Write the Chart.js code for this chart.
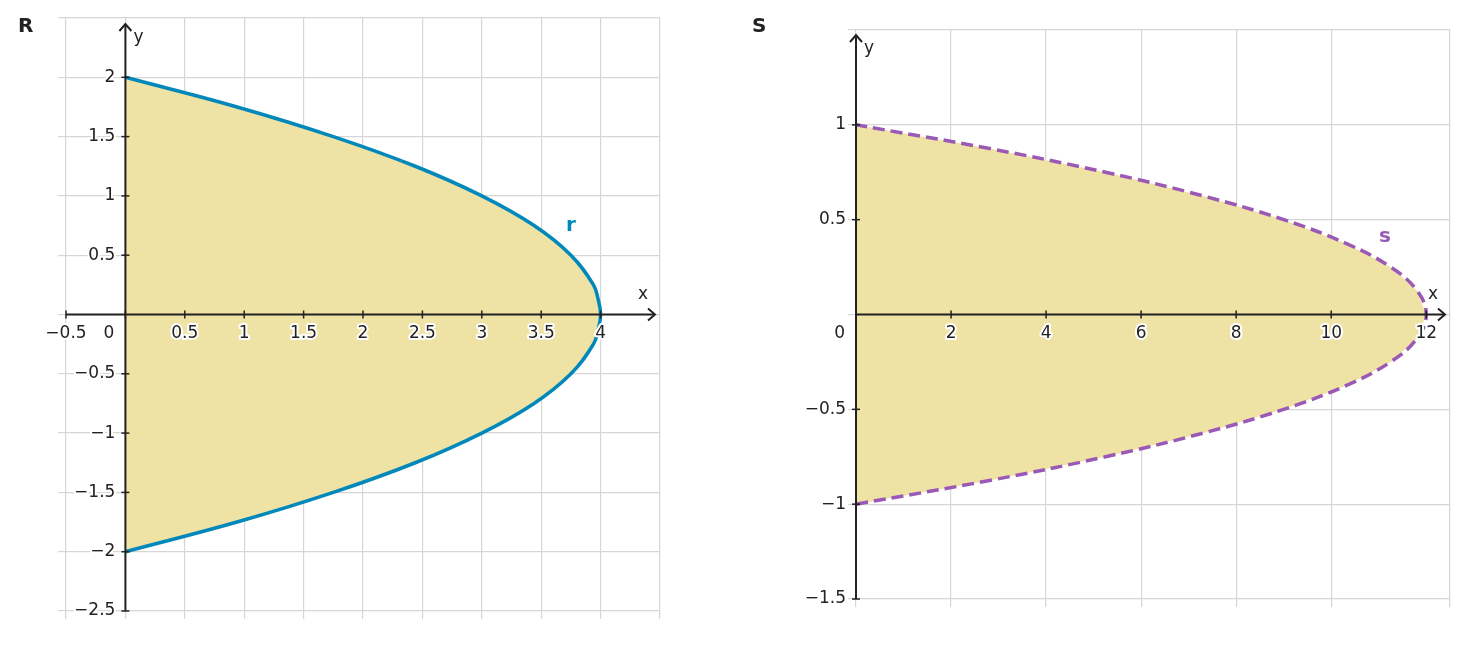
<!DOCTYPE html>
<html>
<head>
<meta charset="utf-8">
<script src="https://cdn.jsdelivr.net/npm/chart.js@4"></script>
<style>
  body { margin: 0; background: #fff; }
  .wrap { position: absolute; top: 0; width: 734px; height: 648px; }
</style>
</head>
<body>
<div class="wrap" style="left:0"><canvas id="chartR"></canvas></div>
<div class="wrap" style="left:734px"><canvas id="chartS"></canvas></div>
<script>
// Curve r: points read along the parabola (x, y)
const rY = [-2, -1.75, -1.5, -1.25, -1, -0.75, -0.5, -0.25, -0.125, 0, 0.125, 0.25, 0.5, 0.75, 1, 1.25, 1.5, 1.75, 2];
const rX = [0, 0.94, 1.75, 2.44, 3, 3.44, 3.75, 3.94, 3.98, 4, 3.98, 3.94, 3.75, 3.44, 3, 2.44, 1.75, 0.94, 0];
const rXTicks = [-0.5, 0, 0.5, 1, 1.5, 2, 2.5, 3, 3.5, 4];
const rYTicks = [-2.5, -2, -1.5, -1, -0.5, 0.5, 1, 1.5, 2];

// Curve s
const sY = [-1, -0.875, -0.75, -0.625, -0.5, -0.375, -0.25, -0.125, 0, 0.125, 0.25, 0.375, 0.5, 0.625, 0.75, 0.875, 1];
const sX = [0, 2.81, 5.25, 7.31, 9, 10.31, 11.25, 11.81, 12, 11.81, 11.25, 10.31, 9, 7.31, 5.25, 2.81, 0];
const sXTicks = [0, 2, 4, 6, 8, 10, 12];
const sYTicks = [-1.5, -1, -0.5, 0.5, 1];

const FONT = '"DejaVu Sans", sans-serif';
const fmt = v => String(v).replace('-', '\u2212');

function axesPlugin(o) {
  return {
    id: 'axes',
    beforeDatasetsDraw(chart) {
      const ctx = chart.ctx;
      const pts = chart.getDatasetMeta(0).data;
      ctx.save();
      ctx.fillStyle = '#efe2a5';
      ctx.beginPath();
      pts.forEach((p, i) => i ? ctx.lineTo(p.x, p.y) : ctx.moveTo(p.x, p.y));
      ctx.closePath();
      ctx.fill();
      ctx.restore();
    },
    afterDatasetsDraw(chart) {
      const ctx = chart.ctx, xs = chart.scales.x, ys = chart.scales.y, a = chart.chartArea;
      const x0 = xs.getPixelForValue(0), y0 = ys.getPixelForValue(0);
      ctx.save();
      ctx.strokeStyle = '#222'; ctx.fillStyle = '#222'; ctx.lineWidth = 2;
      ctx.beginPath();
      ctx.moveTo(a.left, y0); ctx.lineTo(a.right - 5, y0);
      ctx.moveTo(x0, a.bottom); ctx.lineTo(x0, o.yTop);
      ctx.stroke();
      ctx.beginPath();
      ctx.moveTo(a.right - 12, y0 - 6); ctx.lineTo(a.right - 5, y0); ctx.lineTo(a.right - 12, y0 + 6);
      ctx.moveTo(x0 - 6, o.yTop + 7); ctx.lineTo(x0, o.yTop); ctx.lineTo(x0 + 6, o.yTop + 7);
      ctx.stroke();
      ctx.font = '17px ' + FONT;
      ctx.lineWidth = 4; ctx.strokeStyle = '#fff'; ctx.lineJoin = 'round';
      const txt = (t, x, y) => { ctx.strokeText(t, x, y); ctx.fillText(t, x, y); };
      ctx.textBaseline = 'middle';
      o.xTicks.forEach(v => {
        const px = xs.getPixelForValue(v);
        ctx.strokeStyle = '#222'; ctx.lineWidth = 1.5;
        ctx.beginPath(); ctx.moveTo(px, y0 - 4); ctx.lineTo(px, y0 + 4); ctx.stroke();
        ctx.strokeStyle = '#fff'; ctx.lineWidth = 4;
        if (v === 0) { ctx.textAlign = 'right'; txt('0', x0 - 11, y0 + 19); }
        else { ctx.textAlign = 'center'; txt(fmt(v), px, y0 + 19); }
      });
      ctx.textAlign = 'right';
      o.yTicks.forEach(v => {
        const py = ys.getPixelForValue(v);
        ctx.strokeStyle = '#222'; ctx.lineWidth = 1.5;
        ctx.beginPath(); ctx.moveTo(x0 - 4, py); ctx.lineTo(x0 + 4, py); ctx.stroke();
        ctx.strokeStyle = '#fff'; ctx.lineWidth = 4;
        txt(fmt(v), x0 - 10, py);
      });
      ctx.textAlign = 'left';
      ctx.fillText('x', a.right - 22, y0 - 20);
      ctx.fillText('y', x0 + 8, o.yTop + 14);
      ctx.font = 'bold 20px ' + FONT;
      ctx.fillText(o.title, 18, 27);
      ctx.fillStyle = o.color;
      ctx.fillText(o.curveName, o.nameX, o.nameY);
      ctx.restore();
    }
  };
}

function makeChart(id, xv, yv, o) {
  new Chart(document.getElementById(id), {
    type: 'scatter',
    data: { datasets: [{
      data: xv.map((x, i) => ({ x: x, y: yv[i] })),
      showLine: true, tension: 0.4, pointRadius: 0,
      borderColor: o.color, borderWidth: 3.5, borderDash: o.dash, fill: false
    }] },
    options: {
      responsive: false, animation: false,
      layout: { padding: o.pad },
      plugins: { legend: { display: false }, tooltip: { enabled: false } },
      scales: {
        x: { type: 'linear', min: o.xMin, max: o.xMax, border: { display: false },
             ticks: { display: false, stepSize: o.xStep }, grid: { color: '#d6d6d6', lineWidth: 1.2 } },
        y: { type: 'linear', min: o.yMin, max: o.yMax, border: { display: false },
             ticks: { display: false, stepSize: o.yStep }, grid: { color: '#d6d6d6', lineWidth: 1.2 } }
      }
    },
    plugins: [axesPlugin(o)]
  });
}

document.getElementById('chartR').width = 734; document.getElementById('chartR').height = 648;
document.getElementById('chartS').width = 734; document.getElementById('chartS').height = 648;

makeChart('chartR', rX, rY, {
  title: 'R', curveName: 'r', color: '#0088bb', dash: [], nameX: 566, nameY: 226,
  pad: { left: 58, right: 74, top: 18, bottom: 29 }, yTop: 24,
  xMin: -0.5, xMax: 4.5, xStep: 0.5, yMin: -2.5, yMax: 2.5, yStep: 0.5,
  xTicks: rXTicks, yTicks: rYTicks
});
makeChart('chartS', sX, sY, {
  title: 'S', curveName: 's', color: '#9b59b6', dash: [12, 6], nameX: 645, nameY: 237,
  pad: { left: 114, right: 18, top: 30, bottom: 41 }, yTop: 35,
  xMin: 0, xMax: 12.5, xStep: 2, yMin: -1.5, yMax: 1.5, yStep: 0.5,
  xTicks: sXTicks, yTicks: sYTicks
});
</script>
</body>
</html>
